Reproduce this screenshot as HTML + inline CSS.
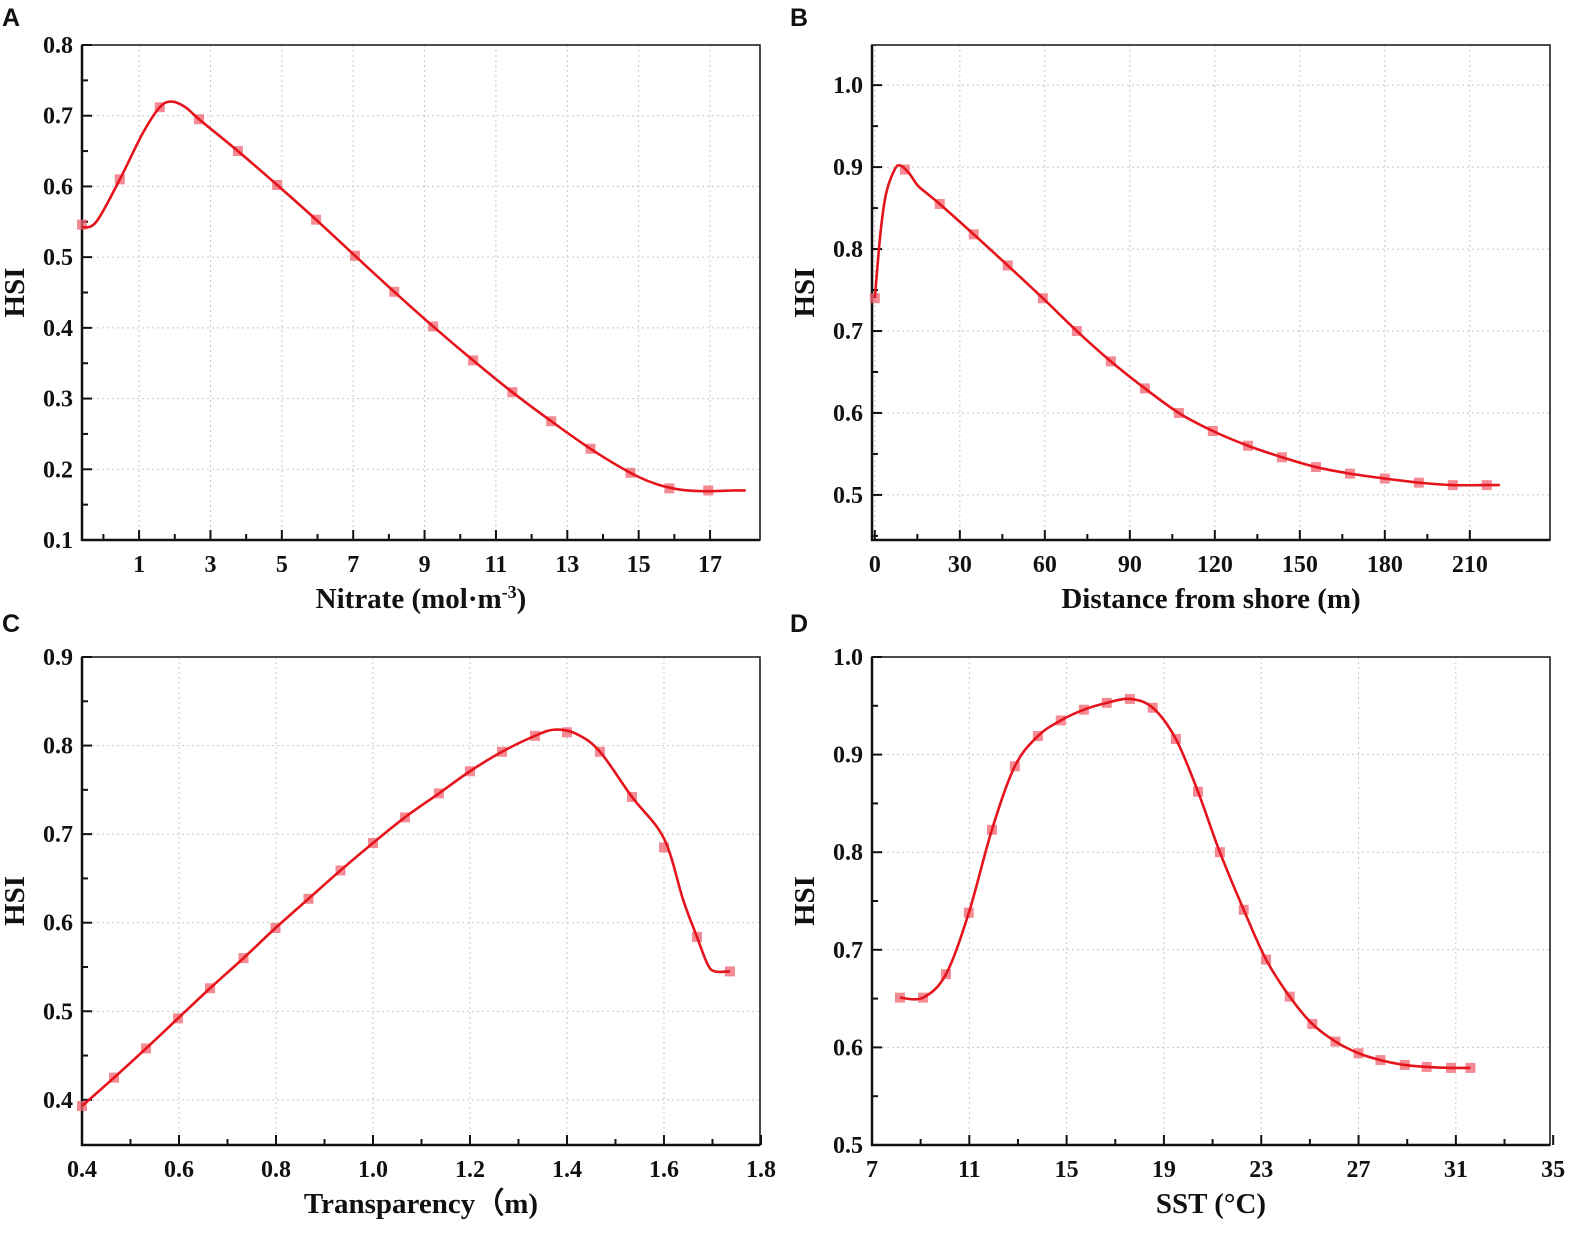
<!DOCTYPE html>
<html><head><meta charset="utf-8"><style>
body{margin:0;background:#fff;width:1585px;height:1230px;overflow:hidden}
svg text{font-family:"Liberation Serif",serif;font-weight:bold;fill:#111}
</style></head><body>
<svg id="c" width="1585" height="1230" xmlns="http://www.w3.org/2000/svg"></svg>
<script>
// Panel A data
const aMarkX=[-0.6,0.46,1.58,2.68,3.77,4.87,5.96,7.05,8.15,9.24,10.36,11.46,12.55,13.65,14.77,15.86,16.95];
const aMarkY=[0.546,0.61,0.712,0.695,0.65,0.602,0.553,0.502,0.451,0.402,0.354,0.309,0.268,0.229,0.195,0.173,0.170];
const aLineX=[-0.6,-0.2,0.46,1.1,1.58,1.92,2.3,2.68,3.77,4.87,5.96,7.05,8.15,9.24,10.36,11.46,12.55,13.65,14.77,15.5,16.2,16.95,17.6,18.0];
const aLineY=[0.542,0.55,0.61,0.675,0.712,0.72,0.712,0.695,0.65,0.602,0.553,0.502,0.451,0.402,0.354,0.309,0.268,0.229,0.195,0.179,0.171,0.169,0.170,0.170];
const aXTicks=[1,3,5,7,9,11,13,15,17];
const aYTicks=[0.1,0.2,0.3,0.4,0.5,0.6,0.7,0.8];
// Panel B data
const bMarkX=[0,10.6,22.9,34.9,46.9,59.3,71.3,83.3,95.3,107.3,119.3,131.7,143.7,155.7,167.7,180,192,204,216];
const bMarkY=[0.74,0.897,0.855,0.818,0.78,0.74,0.70,0.663,0.630,0.600,0.578,0.560,0.546,0.534,0.526,0.520,0.515,0.512,0.512];
const bLineX=[0,2,4,7,9,12,15,18,22.9,34.9,46.9,59.3,71.3,83.3,95.3,107.3,119.3,131.7,143.7,155.7,167.7,180,192,204,216,220.6];
const bLineY=[0.74,0.82,0.868,0.897,0.902,0.893,0.878,0.869,0.855,0.818,0.78,0.74,0.70,0.663,0.630,0.600,0.578,0.560,0.546,0.534,0.526,0.520,0.515,0.512,0.512,0.512];
const bXTicks=[0,30,60,90,120,150,180,210];
const bYTicks=[0.5,0.6,0.7,0.8,0.9,1.0];
// Panel C data
const cMarkX=[0.4,0.466,0.532,0.598,0.664,0.733,0.799,0.867,0.933,1.0,1.066,1.136,1.2,1.266,1.334,1.4,1.468,1.534,1.6,1.668,1.736];
const cMarkY=[0.393,0.425,0.458,0.492,0.526,0.560,0.594,0.627,0.659,0.690,0.719,0.746,0.771,0.793,0.811,0.815,0.793,0.742,0.685,0.584,0.545];
const cLineX=[0.4,0.466,0.532,0.598,0.664,0.733,0.799,0.867,0.933,1.0,1.066,1.136,1.2,1.266,1.334,1.375,1.42,1.468,1.534,1.6,1.64,1.668,1.69,1.705,1.736];
const cLineY=[0.393,0.425,0.458,0.492,0.526,0.560,0.594,0.627,0.659,0.690,0.719,0.746,0.771,0.793,0.811,0.818,0.813,0.793,0.742,0.695,0.625,0.584,0.553,0.545,0.545];
const cXTicks=[0.4,0.6,0.8,1.0,1.2,1.4,1.6,1.8];
const cYTicks=[0.4,0.5,0.6,0.7,0.8,0.9];
// Panel D data
const dMarkX=[8.15,9.1,10.04,10.98,11.93,12.87,13.82,14.76,15.71,16.65,17.6,18.54,19.49,20.4,21.3,22.28,23.2,24.17,25.1,26.05,27.0,27.9,28.9,29.8,30.8,31.6];
const dMarkY=[0.651,0.651,0.675,0.738,0.823,0.888,0.919,0.935,0.946,0.953,0.957,0.948,0.916,0.862,0.800,0.741,0.690,0.652,0.624,0.606,0.594,0.587,0.582,0.580,0.579,0.579];
const dXTicks=[7,11,15,19,23,27,31,35];
const dYTicks=[0.5,0.6,0.7,0.8,0.9,1.0];

const NS="http://www.w3.org/2000/svg";
const svg=document.getElementById('c');
function mk(tag,attrs,parent){const e=document.createElementNS(NS,tag);for(const k in attrs)e.setAttribute(k,attrs[k]);(parent||svg).appendChild(e);return e;}
function smooth(pts){let d=`M${pts[0][0]},${pts[0][1]}`;for(let i=0;i<pts.length-1;i++){const p0=pts[i-1]||pts[i],p1=pts[i],p2=pts[i+1],p3=pts[i+2]||p2;const c1=[p1[0]+(p2[0]-p0[0])/6,p1[1]+(p2[1]-p0[1])/6],c2=[p2[0]-(p3[0]-p1[0])/6,p2[1]-(p3[1]-p1[1])/6];d+=` C${c1[0]},${c1[1]} ${c2[0]},${c2[1]} ${p2[0]},${p2[1]}`;}return d;}

function panel(o){
  const g=mk('g',{});
  
  
  const sx=v=>o.x0+(v-o.xmin)/(o.xmax-o.xmin)*(o.x1-o.x0);
  const sy=v=>o.y1-(v-o.ymin)/(o.ymax-o.ymin)*(o.y1-o.y0);
  o.xt.forEach(v=>{const x=sx(v);if(x>o.x0+2&&x<o.x1-2){const l=mk('line',{x1:x,x2:x,y1:o.y0,y2:o.y1,stroke:'#c8c8c8','stroke-width':1,'stroke-dasharray':'2,3'},g);}});
  o.yt.forEach(v=>{const y=sy(v);if(y>o.y0+2&&y<o.y1-2){const l=mk('line',{x1:o.x0,x2:o.x1,y1:y,y2:y,stroke:'#c8c8c8','stroke-width':1,'stroke-dasharray':'2,3'},g);}});
  const r=mk('rect',{x:o.x0,y:o.y0,width:o.x1-o.x0,height:o.y1-o.y0,fill:'none',stroke:'#111','stroke-width':1.5},g);
  
  mk('line',{x1:o.x0,x2:o.x0,y1:o.y0,y2:o.y1+1,stroke:'#111','stroke-width':2.5},g);
  mk('line',{x1:o.x0-1,x2:o.x1,y1:o.y1,y2:o.y1,stroke:'#111','stroke-width':2.5},g);
  o.xt.forEach((v,i)=>{const x=sx(v);mk('line',{x1:x,x2:x,y1:o.y1,y2:o.y1-10,stroke:'#111','stroke-width':2},g);
    const t=mk('text',{x:x,y:o.y1+32,'text-anchor':'middle','font-size':24},g);t.textContent=o.xl[i];
    
    if(i<o.xt.length-1){const m=sx((v+o.xt[i+1])/2);mk('line',{x1:m,x2:m,y1:o.y1,y2:o.y1-6,stroke:'#111','stroke-width':2},g);}
    if(i==0&&o.preMinor){const m=sx(v-(o.xt[1]-o.xt[0])/2);if(m>o.x0+2)mk('line',{x1:m,x2:m,y1:o.y1,y2:o.y1-6,stroke:'#111','stroke-width':2},g);}
  });
  o.yt.forEach((v,i)=>{const y=sy(v);mk('line',{x1:o.x0,x2:o.x0+10,y1:y,y2:y,stroke:'#111','stroke-width':2},g);
    const t=mk('text',{x:o.x0-9,y:y+8,'text-anchor':'end','font-size':24},g);t.textContent=o.yl[i];
    
    const st=o.yt[1]-o.yt[0];const m=sy(v+st/2);if(m>o.y0+2)mk('line',{x1:o.x0,x2:o.x0+6,y1:m,y2:m,stroke:'#111','stroke-width':2},g);
    if(i==0){const m2=sy(v-st/2);if(m2<o.y1-2)mk('line',{x1:o.x0,x2:o.x0+6,y1:m2,y2:m2,stroke:'#111','stroke-width':2},g);}
  });
  o.mx.forEach((v,i)=>{const m=mk('rect',{x:sx(v)-5,y:sy(o.my[i])-5,width:10,height:10,fill:'#f06470','fill-opacity':0.75},g);
    });
  const pts=o.lx.map((v,i)=>[sx(v),sy(o.ly[i])]);
  const p=mk('path',{d:smooth(pts),fill:'none',stroke:'#e5141c','stroke-width':2.6},g);
  
  const xt=mk('text',{x:(o.x0+o.x1)/2,y:o.y1+68,'text-anchor':'middle','font-size':29},g);xt.innerHTML=o.xtitle;
  
  const yc=(o.y0+o.y1)/2;const yt=mk('text',{x:o.x0-58,y:yc,'text-anchor':'middle','font-size':29,transform:`rotate(-90 ${o.x0-58} ${yc})`},g);yt.textContent='HSI';
  
  const pl=mk('text',{x:o.lx0,y:o.ly0,'font-size':25,style:'font-family:"Liberation Sans",sans-serif'},g);pl.textContent=o.id;
  
}
const f1=v=>v.toFixed(1);
panel({id:'A',x0:82,x1:760,y0:45,y1:540,xmin:-0.6,xmax:18.4,ymin:0.1,ymax:0.8,xt:aXTicks,xl:aXTicks.map(String),yt:aYTicks,yl:aYTicks.map(f1),mx:aMarkX,my:aMarkY,lx:aLineX,ly:aLineY,preMinor:true,xtitle:'Nitrate (mol·m<tspan dy="-10" font-size="18">-3</tspan><tspan dy="10">)</tspan>',lx0:2,ly0:26});
panel({id:'B',x0:872,x1:1550,y0:45,y1:540,xmin:-1,xmax:238.3,ymin:0.445,ymax:1.049,xt:bXTicks,xl:bXTicks.map(String),yt:bYTicks,yl:bYTicks.map(f1),mx:bMarkX,my:bMarkY,lx:bLineX,ly:bLineY,xtitle:'Distance from shore (m)',lx0:790,ly0:26});
panel({id:'C',x0:82,x1:760,y0:657,y1:1145,xmin:0.4,xmax:1.798,ymin:0.349,ymax:0.9,xt:cXTicks,xl:cXTicks.map(f1),yt:cYTicks,yl:cYTicks.map(f1),mx:cMarkX,my:cMarkY,lx:cLineX,ly:cLineY,xtitle:'Transparency（m)',lx0:2,ly0:632});
panel({id:'D',x0:872,x1:1550,y0:657,y1:1145,xmin:7,xmax:34.87,ymin:0.5,ymax:1.0,xt:dXTicks,xl:dXTicks.map(String),yt:dYTicks,yl:dYTicks.map(f1),mx:dMarkX,my:dMarkY,lx:dMarkX,ly:dMarkY,xtitle:'SST (°C)',lx0:790,ly0:632});
</script>
</body></html>
